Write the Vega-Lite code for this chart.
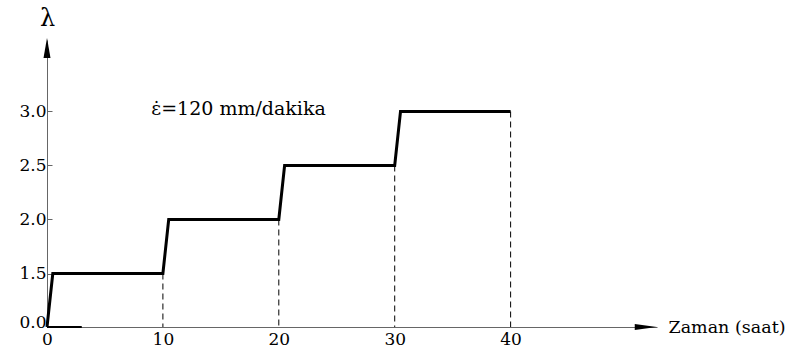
{
  "$schema": "https://vega.github.io/schema/vega-lite/v6.json",
  "width": 610,
  "height": 287,
  "autosize": {"type": "none"},
  "padding": {"left": 47, "top": 40, "right": 133, "bottom": 26},
  "config": {
    "font": "DejaVu Serif",
    "view": {"stroke": null},
    "axis": {"labelFont": "DejaVu Serif", "titleFont": "DejaVu Serif", "labelColor": "black", "titleColor": "black", "domainColor": "#666", "tickColor": "#666", "grid": false}
  },
  "datasets": {
    "steps": [
      {"t": 0, "lam": 0},
      {"t": 0.5, "lam": 1.5},
      {"t": 10, "lam": 1.5},
      {"t": 10.5, "lam": 2.0},
      {"t": 20, "lam": 2.0},
      {"t": 20.5, "lam": 2.5},
      {"t": 30, "lam": 2.5},
      {"t": 30.5, "lam": 3.0},
      {"t": 40, "lam": 3.0}
    ],
    "base": [
      {"t": 0, "lam": 0},
      {"t": 3, "lam": 0}
    ],
    "drops": [
      {"t": 10, "lam": 1.5},
      {"t": 20, "lam": 2.0},
      {"t": 30, "lam": 2.5},
      {"t": 40, "lam": 3.0}
    ]
  },
  "layer": [
    {
      "data": {"name": "steps"},
      "mark": {"type": "line", "color": "black", "strokeWidth": 3, "strokeJoin": "miter"},
      "encoding": {
        "x": {"field": "t", "type": "quantitative",
          "scale": {"domain": [0, 52.63], "range": [0, 610], "nice": false, "zero": false},
          "axis": {"values": [0, 10, 20, 30, 40], "ticks": false, "labelFontSize": 17, "labelPadding": 4, "labelFlush": false,
            "title": "Zaman (saat)", "titleFontSize": 17.5, "titleFontWeight": "normal", "titleX": 621, "titleY": 0, "titleAlign": "left", "titleBaseline": "middle", "titleAngle": 0}},
        "y": {"field": "lam", "type": "quantitative",
          "scale": {"domain": [0, 1.5, 3.662], "range": [287, 233.5, 0], "nice": false, "zero": false},
          "axis": {"values": [0, 1.5, 2, 2.5, 3], "format": ".1f", "tickSize": -5, "labelFontSize": 17, "labelPadding": 6,
            "labelBaseline": {"condition": {"test": "datum.value === 0", "value": "alphabetic"}, "value": "middle"},
            "title": "λ", "titleFontSize": 24, "titleFontWeight": "normal", "titleX": 0, "titleY": -22, "titleAngle": 0, "titleAlign": "center", "titleBaseline": "middle"}}
      }
    },
    {
      "data": {"name": "drops"},
      "mark": {"type": "rule", "color": "black", "strokeWidth": 1, "strokeDash": [6, 4]},
      "encoding": {
        "x": {"field": "t", "type": "quantitative"},
        "y": {"field": "lam", "type": "quantitative"},
        "y2": {"datum": 0}
      }
    },
    {
      "data": {"name": "base"},
      "mark": {"type": "line", "color": "black", "strokeWidth": 2},
      "encoding": {
        "x": {"field": "t", "type": "quantitative"},
        "y": {"field": "lam", "type": "quantitative"}
      }
    },
    {
      "data": {"values": [{}]},
      "mark": {"type": "point", "filled": true, "color": "black", "opacity": 1, "size": 484, "shape": "M -1 -0.27 L 1 0 L -1 0.27 Z"},
      "encoding": {
        "x": {"datum": 51.66, "type": "quantitative"},
        "y": {"datum": 0, "type": "quantitative"}
      }
    },
    {
      "data": {"values": [{}]},
      "mark": {"type": "point", "filled": true, "color": "black", "opacity": 1, "size": 400, "shape": "M -0.35 1 L 0 -1 L 0.35 1 Z"},
      "encoding": {
        "x": {"datum": 0, "type": "quantitative"},
        "y": {"datum": 3.588, "type": "quantitative"}
      }
    },
    {
      "data": {"values": [{"label": "ε̇=120 mm/dakika"}]},
      "mark": {"type": "text", "align": "left", "baseline": "middle", "fontSize": 19, "font": "DejaVu Serif", "color": "black"},
      "encoding": {
        "x": {"datum": 9.0, "type": "quantitative"},
        "y": {"datum": 3.023, "type": "quantitative"},
        "text": {"field": "label", "type": "nominal"}
      }
    }
  ]
}
